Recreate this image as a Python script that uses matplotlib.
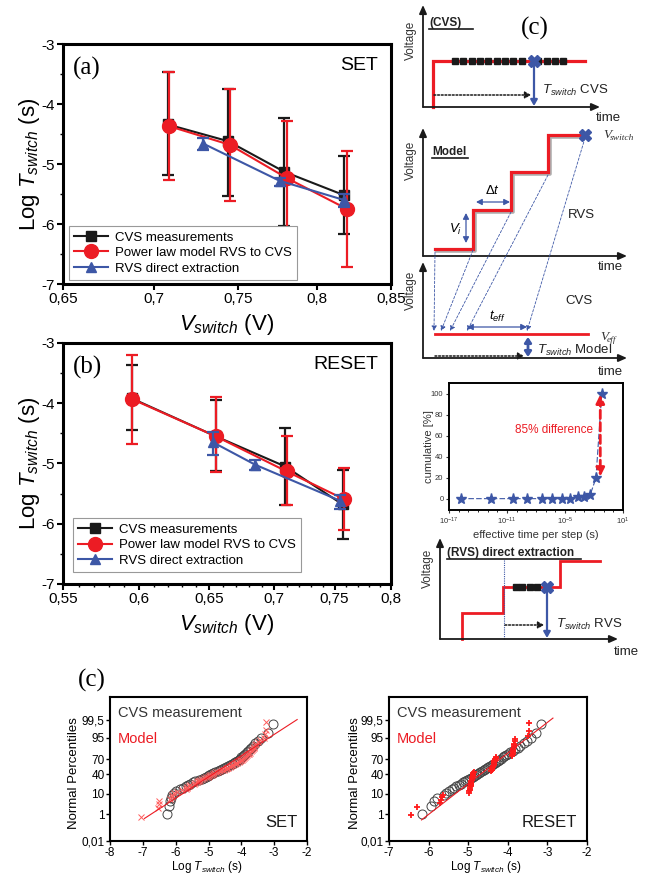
import matplotlib
matplotlib.use("Agg")
import matplotlib.pyplot as plt
import numpy as np
from statistics import NormalDist
from matplotlib.ticker import FixedLocator, NullFormatter

plt.rcParams['font.family'] = ['Liberation Sans', 'DejaVu Sans']
plt.rcParams['mathtext.fontset'] = 'custom'
plt.rcParams['mathtext.it'] = 'Liberation Sans:italic'
plt.rcParams['mathtext.rm'] = 'Liberation Sans'
plt.rcParams['mathtext.bf'] = 'Liberation Sans:bold'

RED = '#ec1c24'
BLUE = '#3d57a6'
BLK = '#1a1a1a'

# ---- (a) SET: switching time vs switching voltage ----
set_cvs_v = [0.708, 0.744, 0.779, 0.818]
set_cvs_t = [-4.34, -4.62, -5.13, -5.52]
set_cvs_lo = [-5.19, -5.53, -6.03, -6.16]
set_cvs_hi = [-3.47, -3.75, -4.24, -4.87]

set_mod_v = [0.709, 0.745, 0.781, 0.820]
set_mod_t = [-4.37, -4.68, -5.24, -5.75]
set_mod_lo = [-5.27, -5.61, -6.21, -6.71]
set_mod_hi = [-3.47, -3.75, -4.29, -4.79]

set_rvs_v = [0.729, 0.776, 0.818]
set_rvs_t = [-4.66, -5.28, -5.60]
set_rvs_lo = [-4.76, -5.37, -5.71]
set_rvs_hi = [-4.56, -5.24, -5.50]

# ---- (b) RESET ----
reset_cvs_v = [0.595, 0.655, 0.709, 0.757]
reset_cvs_t = [-3.92, -4.55, -5.05, -5.68]
reset_cvs_lo = [-4.44, -5.12, -5.69, -6.25]
reset_cvs_hi = [-3.37, -3.95, -4.41, -5.10]

reset_mod_v = [0.595, 0.655, 0.710, 0.758]
reset_mod_t = [-3.93, -4.55, -5.13, -5.59]
reset_mod_lo = [-4.67, -5.14, -5.69, -6.10]
reset_mod_hi = [-3.20, -3.90, -4.55, -5.07]

reset_rvs_v = [0.653, 0.685, 0.755]
reset_rvs_t = [-4.65, -5.02, -5.62]
reset_rvs_lo = [-4.86, -5.10, -5.76]
reset_rvs_hi = [-4.48, -4.94, -5.53]

# ---- cumulative of effective time per step ----
cum_log_t = [-15.8, -12.7, -10.4, -8.9, -7.4, -6.3, -5.3, -4.5, -3.7, -3.0, -2.4, -1.8, -1.2]
cum_pct = [0, 0, 0, 0, 0, 0, 0, 0, 1.5, 2, 3.5, 19.5, 100]

# ---- probability plots (sorted log Tswitch) ----
set_meas = [-6.26, -6.21, -6.18, -6.14, -6.10, -6.05, -5.98, -5.88, -5.78, -5.70,
            -5.62, -5.55, -5.47, -5.40, -5.30, -5.20, -5.14, -5.08, -5.02, -4.97,
            -4.92, -4.86, -4.79, -4.72, -4.66, -4.60, -4.54, -4.47, -4.40, -4.34,
            -4.29, -4.23, -4.18, -4.13, -4.08, -4.04, -4.00, -3.96, -3.92, -3.88,
            -3.84, -3.80, -3.75, -3.70, -3.64, -3.57, -3.50, -3.40, -3.18, -3.03]
set_model = [-7.05, -6.55, -6.52, -6.50, -6.18, -6.12, -6.10, -6.05, -5.95, -5.80,
             -5.70, -5.66, -5.64, -5.60, -5.55, -5.45, -5.40, -5.36, -5.33, -5.30,
             -5.25, -5.20, -5.14, -5.08, -5.02, -4.98, -4.94, -4.90, -4.86, -4.82,
             -4.76, -4.70, -4.64, -4.58, -4.52, -4.48, -4.44, -4.40, -4.36, -4.32,
             -4.28, -4.24, -4.20, -4.16, -4.12, -4.08, -4.04, -4.00, -3.97, -3.94,
             -3.91, -3.88, -3.85, -3.82, -3.79, -3.76, -3.73, -3.70, -3.67, -3.64,
             -3.62, -3.60, -3.57, -3.54, -3.50, -3.44, -3.32, -3.28, -3.26, -3.24]
set_fit_x = [-6.95, -2.3]
set_fit_pct = [0.54, 99.5]

reset_meas = [-6.16, -5.95, -5.87, -5.80, -5.62, -5.55, -5.48, -5.42, -5.36, -5.30,
              -5.24, -5.18, -5.12, -5.07, -5.02, -4.97, -4.93, -4.89, -4.85, -4.81,
              -4.77, -4.73, -4.69, -4.65, -4.61, -4.57, -4.53, -4.49, -4.45, -4.41,
              -4.37, -4.33, -4.29, -4.25, -4.21, -4.17, -4.13, -4.09, -4.04, -3.99,
              -3.94, -3.88, -3.82, -3.75, -3.68, -3.60, -3.52, -3.42, -3.30, -3.15]
reset_model = [-6.45, -6.30, -5.70, -5.68, -5.66, -5.64,
               -4.98, -4.97, -4.96, -4.96, -4.95, -4.94, -4.94, -4.93, -4.93, -4.92,
               -4.92, -4.91, -4.91, -4.90, -4.90, -4.89, -4.89, -4.88, -4.88, -4.87, -4.86,
               -4.42, -4.41, -4.40, -4.40, -4.39, -4.38, -4.38, -4.37, -4.36, -4.36,
               -4.35, -4.34, -4.34, -4.33, -4.32, -4.32, -4.31, -4.30,
               -3.90, -3.89, -3.88, -3.88, -3.87, -3.86, -3.86, -3.85, -3.84, -3.84,
               -3.83, -3.82, -3.48, -3.47, -3.46]
reset_fit_x = [-6.18, -2.86]
reset_fit_pct = [0.43, 99.6]

prob_ticks = [0.01, 1, 10, 40, 70, 95, 99.5]
prob_labels = ['0,01', '1', '10', '40', '70', '95', '99,5']

W, H = 650, 876
fig = plt.figure(figsize=(W / 100, H / 100), dpi=100)


def box(x0, y0, x1, y1):
    return [x0 / W, 1 - y1 / H, (x1 - x0) / W, (y1 - y0) / H]


def probit(pct):
    nd = NormalDist()
    return np.array([nd.inv_cdf(p / 100.0) for p in np.atleast_1d(pct)])


def comma(v):
    return ('%g' % v).replace('.', ',')


def vt_panel(rect, xlim, xticks, minor, series, tag, name, leg_xy):
    ax = fig.add_axes(rect)
    ax.set_xscale('log')
    for (v, t, lo, hi, fmt, col, ms, lab, z) in series:
        t = np.array(t)
        err = [t - np.array(lo), np.array(hi) - t]
        ax.errorbar(v, t, yerr=err, fmt='none', ecolor=col, elinewidth=1.6,
                    capsize=4.5, capthick=1.6, zorder=z)
        ax.plot(v, t, fmt, color=col, ms=ms, lw=1.5, label=lab, zorder=z + 0.5)
    ax.set_xlim(*xlim)
    ax.set_ylim(-7, -3)
    ax.xaxis.set_major_locator(FixedLocator(xticks))
    ax.set_xticklabels([comma(v) for v in xticks])
    ax.xaxis.set_minor_locator(FixedLocator(minor))
    ax.xaxis.set_minor_formatter(NullFormatter())
    ax.set_yticks([-7, -6, -5, -4, -3])
    ax.set_yticklabels(['-7', '-6', '-5', '-4', '-3'])
    ax.yaxis.set_minor_locator(FixedLocator([-6.5, -5.5, -4.5, -3.5]))
    ax.tick_params(which='major', direction='out', length=4, width=1.5, labelsize=11, pad=2)
    ax.tick_params(which='minor', direction='out', length=2, width=1)
    for s in ax.spines.values():
        s.set_linewidth(2.2)
    ax.set_ylabel(r'Log $T_{switch}$ (s)', fontsize=16)
    ax.yaxis.set_label_coords(-0.065, 0.5)
    ax.set_xlabel(r'$V_{switch}$ (V)', fontsize=16)
    ax.xaxis.set_label_coords(0.5, -0.115)
    ax.text(0.03, 0.9, tag, transform=ax.transAxes, fontsize=18,
            family='Liberation Serif', va='center')
    ax.text(0.96, 0.91, name, transform=ax.transAxes, fontsize=14, ha='right', va='center')
    leg = ax.legend(loc='lower left', bbox_to_anchor=leg_xy, borderaxespad=0,
                    fontsize=9.5, handlelength=2.6, frameon=True, fancybox=False,
                    edgecolor='#999999', framealpha=1, borderpad=0.4,
                    labelspacing=0.25, handletextpad=0.5)
    leg.get_frame().set_linewidth(0.8)
    return ax


set_series = [
    (set_cvs_v, set_cvs_t, set_cvs_lo, set_cvs_hi, 's-', BLK, 7, 'CVS measurements', 2),
    (set_mod_v, set_mod_t, set_mod_lo, set_mod_hi, 'o-', RED, 10, 'Power law model RVS to CVS', 3),
    (set_rvs_v, set_rvs_t, set_rvs_lo, set_rvs_hi, '^-', BLUE, 6.5, 'RVS direct extraction', 4),
]
vt_panel(box(63, 44, 391, 284), (0.65, 0.85), [0.65, 0.7, 0.75, 0.8, 0.85], [],
         set_series, '(a)', 'SET', (0.018, 0.017))

reset_series = [
    (reset_cvs_v, reset_cvs_t, reset_cvs_lo, reset_cvs_hi, 's-', BLK, 7, 'CVS measurements', 2),
    (reset_mod_v, reset_mod_t, reset_mod_lo, reset_mod_hi, 'o-', RED, 10, 'Power law model RVS to CVS', 3),
    (reset_rvs_v, reset_rvs_t, reset_rvs_lo, reset_rvs_hi, '^-', BLUE, 6.5, 'RVS direct extraction', 4),
]
vt_panel(box(63, 343, 391, 584), (0.55, 0.8), [0.55, 0.6, 0.65, 0.7, 0.75, 0.8],
         list(np.arange(0.56, 0.80, 0.01)), reset_series, '(b)', 'RESET', (0.03, 0.05))

# ---- cumulative panel ----
axc = fig.add_axes(box(449, 383, 623, 510))
cum_t = 10.0 ** np.array(cum_log_t)
axc.set_xscale('log')
axc.plot(cum_t, cum_pct, '*', color=BLUE, ms=8, ls=(0, (5, 2)), lw=0.8)
axc.annotate('', xy=(10 ** -1.35, 21), xytext=(10 ** -1.35, 99),
             arrowprops=dict(arrowstyle='<|-|>,head_length=0.5,head_width=0.25',
                             color=RED, lw=2, linestyle=(0, (3, 1.5)),
                             shrinkA=0, shrinkB=0))
axc.text(10 ** -6.1, 65, '85% difference', color=RED, fontsize=8.5, ha='center', va='center')
axc.set_xlim(1e-17, 1e1)
axc.set_ylim(-10.8, 110)
axc.xaxis.set_major_locator(FixedLocator([1e-17, 1e-11, 1e-5, 1e1]))
axc.set_xticklabels([r'$10^{-17}$', r'$10^{-11}$', r'$10^{-5}$', r'$10^{1}$'])
axc.xaxis.set_minor_locator(FixedLocator(10.0 ** np.arange(-17, 2)))
axc.xaxis.set_minor_formatter(NullFormatter())
axc.set_yticks([0, 20, 40, 60, 80, 100])
axc.tick_params(which='major', direction='out', length=2.5, width=0.8, labelsize=5.5,
                pad=1.5, colors='#333333')
axc.tick_params(which='minor', direction='out', length=1.5, width=0.6)
for s in axc.spines.values():
    s.set_linewidth(1.4)
axc.set_ylabel('cumulative [%]', fontsize=8, color='#333333')
axc.yaxis.set_label_coords(-0.085, 0.5)
axc.set_xlabel('effective time per step (s)', fontsize=8, color='#333333')
axc.xaxis.set_label_coords(0.5, -0.155)


# ---- normal probability panels ----
def prob_panel(rect, xticks, meas, model, mk, mcol, mms, mmew, fit_x, fit_pct, name, ylab_x):
    ax = fig.add_axes(rect)
    nm = len(meas)
    pm = (np.arange(1, nm + 1) - 0.5) / nm * 100
    ax.plot(meas, probit(pm), 'o', mfc='none', mec='#444444', ms=6.5, mew=0.7, zorder=2)
    nmod = len(model)
    pmod = (np.arange(1, nmod + 1) - 0.5) / nmod * 100
    ax.plot(model, probit(pmod), mk, color=mcol, ms=mms, mew=mmew, ls='none', zorder=3)
    ax.plot(fit_x, probit(fit_pct), '-', color=RED, lw=0.8, zorder=4)
    ax.set_xlim(xticks[0], xticks[-1])
    ax.set_ylim(probit(0.01)[0], probit(99.991)[0])
    ax.set_xticks(xticks)
    ax.set_xticklabels(['%d' % v for v in xticks])
    ax.set_yticks(probit(prob_ticks))
    ax.set_yticklabels(prob_labels)
    ax.tick_params(direction='out', length=3, width=1, labelsize=8.5, pad=1)
    for s in ax.spines.values():
        s.set_linewidth(1.5)
    ax.set_ylabel('Normal Percentiles', fontsize=9.5)
    ax.yaxis.set_label_coords(ylab_x, 0.47)
    ax.set_xlabel(r'Log $T_{switch}$ (s)', fontsize=8.5)
    ax.xaxis.set_label_coords(0.49, -0.128)
    ax.text(0.04, 0.89, 'CVS measurement', transform=ax.transAxes, fontsize=10.5,
            color='#333333', va='center')
    ax.text(0.04, 0.705, 'Model', transform=ax.transAxes, fontsize=10.5,
            color=RED, va='center')
    ax.text(0.95, 0.13, name, transform=ax.transAxes, fontsize=12,
            ha='right', va='center', color=BLK)
    return ax


prob_panel(box(110, 697, 307, 841), [-8, -7, -6, -5, -4, -3, -2], set_meas, set_model,
           'x', '#ff5a5a', 4, 0.7, set_fit_x, set_fit_pct, 'SET', -0.15)
prob_panel(box(389, 697, 587, 841), [-7, -6, -5, -4, -3, -2], reset_meas, reset_model,
           '+', '#ff1a1a', 5, 1.3, reset_fit_x, reset_fit_pct, 'RESET', -0.14)

fig.text(92 / W, 1 - 680 / H, '(c)', fontsize=18, family='Liberation Serif',
         ha='center', va='center')

# ---- schematics drawn in pixel coordinates ----
sk = fig.add_axes([0, 0, 1, 1])
sk.set_xlim(0, W)
sk.set_ylim(H, 0)
sk.axis('off')
sk.patch.set_alpha(0)


def arrow(x0, y0, x1, y1, color=BLK, lw=1.0, style='-|>', ls='-', hl=0.5, hw=0.22):
    sk.annotate('', xy=(x1, y1), xytext=(x0, y0),
                arrowprops=dict(arrowstyle='%s,head_length=%g,head_width=%g' % (style, hl, hw),
                                color=color, lw=lw, linestyle=ls, shrinkA=0, shrinkB=0))


def frame(x0, y0, ytop, xend, vlab_y):
    arrow(x0, y0, x0, ytop, lw=1.3)
    arrow(x0, y0, xend, y0, lw=1.3)
    sk.text(x0 - 12, vlab_y, 'Voltage', rotation=90, fontsize=8.5, ha='center',
            va='center', color='#333333')


def title_ul(x, y, s, width, size=8.5):
    sk.text(x, y, s, fontsize=size, fontweight='bold', va='center', color='#222222')
    sk.plot([x, x + width], [y + 6, y + 6], color=BLK, lw=1.2)


def serif_sub(x, y, main, sub, size=9.5):
    sk.text(x, y, main, fontsize=size, family='Liberation Serif', style='italic',
            va='center', color='#333333')
    sk.text(x + 7, y + 3, sub, fontsize=size * 0.72, family='Liberation Serif',
            style='italic', va='center', color='#333333')


# CVS sketch
frame(423, 107, 5, 600, 40)
title_ul(429, 23, '(CVS)', 44)
sk.text(535, 28, '(c)', fontsize=18, family='Liberation Serif', ha='center', va='center')
sk.plot([433, 433, 585], [107, 61, 61], color=RED, lw=2.3, solid_joinstyle='miter')
cvs_mark_x = [455, 463, 472, 480, 488, 497, 505, 513, 522, 538, 547, 555, 563]
sk.plot(cvs_mark_x, [61] * len(cvs_mark_x), 's', color=BLK, ms=4.6, ls='none')
sk.plot([534], [61], 'X', color=BLUE, ms=9)
arrow(534, 61, 534, 106, color=BLUE, lw=1.6, hl=0.35, hw=0.2)
arrow(434, 95, 531, 95, ls=(0, (1.2, 1.2)), lw=1.1, hl=0.35, hw=0.2)
sk.text(542, 90, r'$T_{switch}$ CVS', fontsize=9.5, va='center', color='#222222')
sk.text(608, 118, 'time', fontsize=9.5, ha='center', va='center', color='#222222')

# Model sketch: ramped steps
frame(423, 256, 128, 627, 160)
title_ul(432, 152, 'Model', 36)
stair_x = [435, 473, 473, 511, 511, 548, 548, 583]
stair_y = [249, 249, 210, 210, 172, 172, 135, 135]
sk.plot(np.array(stair_x) + 1.5, np.array(stair_y) + 2, color='#b0b0b0', lw=2.6)
sk.plot(stair_x, stair_y, color=RED, lw=2.3, solid_joinstyle='miter')
sk.plot([585], [135], 'X', color=BLUE, ms=9)
serif_sub(603, 135, 'V', 'switch')
arrow(476, 202, 510, 202, color=BLUE, style='<|-|>', lw=0.9, hl=0.35, hw=0.18)
sk.text(492, 191, r'$\Delta t$', fontsize=9.5, ha='center', va='center')
arrow(466, 213, 466, 243, color=BLUE, style='<|-|>', lw=0.9, hl=0.35, hw=0.18)
sk.text(456, 229, r'$V_i$', fontsize=9.5, ha='center', va='center')
sk.text(581, 215, 'RVS', fontsize=9.5, ha='center', va='center', color='#222222')
sk.text(610, 267, 'time', fontsize=9.5, ha='center', va='center', color='#222222')

# CVS equivalent of the model
frame(423, 358, 262, 627, 290)
sk.text(579, 301, 'CVS', fontsize=9.5, ha='center', va='center', color='#222222')
sk.plot([435, 588], [334, 334], color=RED, lw=2.0)
serif_sub(600, 337, 'V', 'eff')
arrow(467, 327, 527, 327, color=BLUE, style='<|-|>', lw=0.9, hl=0.35, hw=0.18)
sk.text(497, 316, r'$t_{eff}$', fontsize=9.5, ha='center', va='center')
arrow(528, 337, 528, 357, color=BLUE, style='<|-|>', lw=2, hl=0.3, hw=0.2)
sk.text(537, 350, r'$T_{switch}$ Model', fontsize=9.5, va='center', color='#222222')
arrow(435, 356, 524, 356, ls=(0, (1.2, 1.2)), lw=1.1, hl=0.35, hw=0.2)
sk.text(610, 372, 'time', fontsize=9.5, ha='center', va='center', color='#222222')
link_from = [(435, 252), (473, 250), (511, 212), (548, 175), (585, 138)]
link_to = [(434, 331), (441, 331), (450, 331), (467, 331), (527, 331)]
for (xa, ya), (xb, yb) in zip(link_from, link_to):
    arrow(xa, ya, xb, yb, color=BLUE, lw=0.6, ls=(0, (3, 2)), hl=0.3, hw=0.15)

# RVS direct extraction sketch
frame(440, 639, 538, 618, 568)
title_ul(447, 553, '(RVS) direct extraction', 134, size=8.5)
rvs_x = [462, 462, 503, 503, 560, 560, 600]
rvs_y = [639, 613, 613, 587, 587, 561, 561]
sk.plot(rvs_x, rvs_y, color=RED, lw=2.0, solid_joinstyle='miter')
sk.plot([504, 504], [560, 639], color=BLUE, lw=0.8, ls=(0, (1, 1)))
rvs_mark_x = [516, 522, 530, 537]
sk.plot(rvs_mark_x, [587] * len(rvs_mark_x), 's', color=BLK, ms=4.8, ls='none')
sk.plot([547], [587], 'X', color=BLUE, ms=9)
arrow(547, 587, 547, 638, color=BLUE, lw=1.6, hl=0.35, hw=0.2)
arrow(505, 625, 544, 625, ls=(0, (1.2, 1.2)), lw=1.1, hl=0.35, hw=0.2)
sk.text(556, 624, r'$T_{switch}$ RVS', fontsize=9.5, va='center', color='#222222')
sk.text(626, 652, 'time', fontsize=9.5, ha='center', va='center', color='#222222')

fig.savefig('out.png', dpi=100)
